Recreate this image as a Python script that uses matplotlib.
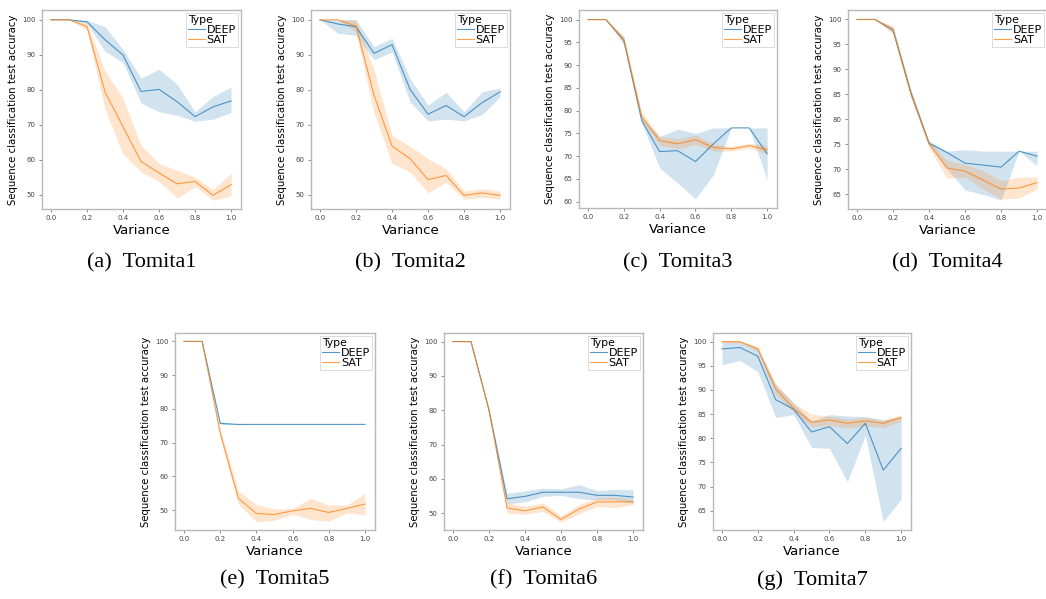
import matplotlib
matplotlib.use("Agg")
import matplotlib.pyplot as plt

variance = [0.0, 0.1, 0.2, 0.3, 0.4, 0.5, 0.6, 0.7, 0.8, 0.9, 1.0]

# Tomita1
t1_deep = [100, 100, 99.4, 94.3, 89.9, 79.5, 80.1, 76.6, 72.3, 75.1, 76.8]
t1_deep_lo = [100, 100, 99.0, 91.0, 87.8, 76.2, 73.7, 72.7, 71.0, 71.6, 73.5]
t1_deep_hi = [100, 100, 99.9, 98.0, 91.5, 83.3, 85.9, 81.6, 73.7, 78.1, 80.8]
t1_sat = [100, 100, 98.1, 79.4, 69.4, 59.5, 56.2, 53.1, 53.8, 49.8, 52.9]
t1_sat_lo = [100, 100, 97.0, 74.3, 61.5, 56.5, 53.8, 49.0, 52.4, 48.4, 49.6]
t1_sat_hi = [100, 100, 99.0, 85.4, 77.5, 64.1, 58.9, 57.0, 55.0, 51.4, 56.2]

# Tomita2
t2_deep = [100, 98.8, 98.0, 90.4, 92.9, 80.1, 73.0, 75.5, 72.3, 76.3, 79.4]
t2_deep_lo = [100, 96.1, 95.6, 88.5, 90.8, 76.5, 71.1, 71.6, 71.1, 72.9, 78.0]
t2_deep_hi = [100, 100, 100, 92.3, 94.7, 83.2, 75.6, 79.3, 73.7, 79.4, 80.5]
t2_sat = [100, 100, 98.2, 78.4, 63.9, 60.3, 54.3, 55.5, 49.8, 50.5, 49.8]
t2_sat_lo = [100, 100, 96.5, 73.2, 58.9, 56.5, 50.5, 53.6, 48.7, 49.3, 48.7]
t2_sat_hi = [100, 100, 100, 85.6, 67.0, 63.9, 60.3, 57.4, 51.0, 51.7, 51.0]

# Tomita3
t3_deep = [100, 100, 95.5, 77.8, 71.0, 71.2, 68.8, 72.7, 76.2, 76.2, 70.5]
t3_deep_lo = [100, 100, 94.5, 77.3, 67.4, 64.1, 60.6, 65.9, 76.2, 76.2, 64.8]
t3_deep_hi = [100, 100, 96.3, 78.5, 74.3, 75.9, 75.0, 76.2, 76.2, 76.2, 76.2]
t3_sat = [100, 100, 95.5, 78.7, 73.4, 72.7, 73.6, 71.9, 71.6, 72.3, 71.4]
t3_sat_lo = [100, 100, 94.7, 77.8, 72.4, 71.6, 72.6, 71.1, 71.1, 71.8, 70.5]
t3_sat_hi = [100, 100, 96.3, 79.6, 74.4, 73.8, 74.6, 72.7, 72.1, 72.8, 72.3]

# Tomita4
t4_deep = [100, 100, 97.9, 85.2, 75.2, 73.3, 71.2, 70.8, 70.4, 73.6, 72.6]
t4_deep_lo = [100, 100, 97.2, 84.5, 74.9, 70.0, 65.8, 64.9, 63.8, 73.6, 70.7]
t4_deep_hi = [100, 100, 98.6, 85.9, 75.6, 73.6, 73.9, 73.6, 73.6, 73.6, 73.6]
t4_sat = [100, 100, 97.9, 85.0, 75.1, 70.2, 69.6, 67.8, 66.0, 66.2, 67.3]
t4_sat_lo = [100, 100, 97.2, 84.3, 74.3, 68.2, 68.4, 66.0, 64.0, 64.2, 66.0]
t4_sat_hi = [100, 100, 98.6, 85.7, 75.6, 71.7, 71.0, 69.7, 67.7, 68.4, 68.4]

# Tomita5
t5_deep = [100, 100, 75.7, 75.4, 75.4, 75.4, 75.4, 75.4, 75.4, 75.4, 75.4]
t5_deep_lo = [100, 100, 75.4, 75.3, 75.4, 75.4, 75.4, 75.4, 75.4, 75.4, 75.4]
t5_deep_hi = [100, 100, 76.1, 75.6, 75.4, 75.4, 75.4, 75.4, 75.4, 75.4, 75.4]
t5_sat = [100, 100, 72.8, 53.5, 49.0, 48.7, 49.8, 50.5, 49.3, 50.5, 51.8]
t5_sat_lo = [100, 100, 71.5, 51.8, 46.5, 47.0, 48.8, 47.2, 46.7, 49.2, 48.5]
t5_sat_hi = [100, 100, 74.0, 55.7, 51.7, 50.3, 50.5, 53.5, 51.5, 51.5, 55.0]

# Tomita6
t6_deep = [100, 100, 80.0, 54.2, 54.9, 56.1, 56.1, 56.1, 55.2, 55.2, 54.7]
t6_deep_lo = [100, 100, 79.7, 52.7, 53.3, 54.9, 55.2, 54.2, 53.9, 53.9, 52.9]
t6_deep_hi = [100, 100, 80.3, 55.8, 56.5, 57.3, 57.1, 58.3, 56.6, 57.0, 56.8]
t6_sat = [100, 100, 80.0, 51.5, 50.7, 51.8, 48.2, 51.2, 53.3, 53.3, 53.3]
t6_sat_lo = [100, 100, 79.7, 50.0, 49.7, 50.5, 47.4, 49.8, 52.0, 51.6, 52.5]
t6_sat_hi = [100, 100, 80.3, 53.0, 52.0, 53.0, 49.2, 52.5, 54.5, 54.8, 54.0]

# Tomita7
t7_deep = [98.5, 98.8, 97.0, 88.0, 86.0, 81.3, 82.4, 78.9, 83.1, 73.4, 77.9]
t7_deep_lo = [95.2, 96.1, 93.8, 84.3, 84.9, 78.1, 77.9, 71.0, 80.6, 62.7, 67.4]
t7_deep_hi = [100, 100, 98.7, 91.1, 87.3, 83.6, 84.9, 84.6, 84.5, 83.8, 84.5]
t7_sat = [100, 100, 98.5, 90.2, 86.2, 83.3, 83.8, 83.1, 83.6, 83.1, 84.3]
t7_sat_lo = [99.8, 99.8, 98.0, 89.0, 85.5, 82.3, 82.7, 82.1, 82.6, 82.2, 83.5]
t7_sat_hi = [100.3, 100.2, 99.0, 91.3, 87.3, 85.0, 84.6, 84.0, 84.3, 83.8, 84.9]

captions = ["(a)  Tomita1", "(b)  Tomita2", "(c)  Tomita3", "(d)  Tomita4",
            "(e)  Tomita5", "(f)  Tomita6", "(g)  Tomita7"]

W, H = 1046, 599
fig = plt.figure(figsize=(W / 100, H / 100), dpi=100)

# axes boxes in pixels: left, top, right, bottom
boxes = [(42, 10, 241, 209), (311, 10, 510, 209), (579, 10, 777, 208),
         (848, 10, 1047, 209), (175, 333, 375, 530), (444, 333, 643, 530),
         (713, 333, 911, 530)]
ylims = [(45.9, 102.8), (45.9, 102.8), (58.6, 102.1), (62.0, 101.9),
         (44.1, 102.5), (45.1, 102.5), (61.0, 101.8)]
yticks = [range(50, 101, 10), range(50, 101, 10), range(60, 101, 5),
          range(65, 101, 5), range(50, 101, 10), range(50, 101, 10),
          range(65, 101, 5)]
caption_y = [263, 263, 263, 263, 580, 580, 580]

series = [
    (t1_deep, t1_deep_lo, t1_deep_hi, t1_sat, t1_sat_lo, t1_sat_hi),
    (t2_deep, t2_deep_lo, t2_deep_hi, t2_sat, t2_sat_lo, t2_sat_hi),
    (t3_deep, t3_deep_lo, t3_deep_hi, t3_sat, t3_sat_lo, t3_sat_hi),
    (t4_deep, t4_deep_lo, t4_deep_hi, t4_sat, t4_sat_lo, t4_sat_hi),
    (t5_deep, t5_deep_lo, t5_deep_hi, t5_sat, t5_sat_lo, t5_sat_hi),
    (t6_deep, t6_deep_lo, t6_deep_hi, t6_sat, t6_sat_lo, t6_sat_hi),
    (t7_deep, t7_deep_lo, t7_deep_hi, t7_sat, t7_sat_lo, t7_sat_hi),
]

blue = '#1f77b4'
orange = '#ff7f0e'
spine_col = '#b8b8b8'

for i, (l, t, r, b) in enumerate(boxes):
    ax = fig.add_axes([l / W, 1 - b / H, (r - l) / W, (b - t) / H])
    deep, dlo, dhi, sat, slo, shi = series[i]
    ax.fill_between(variance, dlo, dhi, color=blue, alpha=0.2, linewidth=0)
    ax.plot(variance, deep, color=blue, lw=0.8, alpha=0.75, label='DEEP')
    ax.fill_between(variance, slo, shi, color=orange, alpha=0.2, linewidth=0)
    ax.plot(variance, sat, color=orange, lw=0.8, alpha=0.75, label='SAT')
    ax.set_xlim(-0.05, 1.055)
    ax.set_ylim(*ylims[i])
    ax.set_xticks([0.0, 0.2, 0.4, 0.6, 0.8, 1.0])
    ax.set_yticks(list(yticks[i]))
    ax.tick_params(labelsize=5, length=2.5, width=0.6, color='#777777',
                   labelcolor='#444444', pad=2)
    for s in ax.spines.values():
        s.set_color(spine_col)
        s.set_linewidth(1.0)
    ax.set_xlabel('Variance', fontsize=9.5, labelpad=2)
    ax.set_ylabel('Sequence classification test accuracy', fontsize=7.3,
                  labelpad=3)
    leg = ax.legend(title='Type', loc='upper right', fontsize=8,
                    title_fontsize=7.8, handlelength=1.5, handletextpad=0.2,
                    borderpad=0.15, labelspacing=0.0, borderaxespad=0.3,
                    fancybox=False, alignment='left')
    leg.get_frame().set_edgecolor('#cccccc')
    leg.get_frame().set_linewidth(0.6)
    fig.text((l + r) / 2 / W, 1 - caption_y[i] / H, captions[i],
             ha='center', va='center', fontsize=16, family='Liberation Serif')

fig.savefig('out.png', dpi=100)
